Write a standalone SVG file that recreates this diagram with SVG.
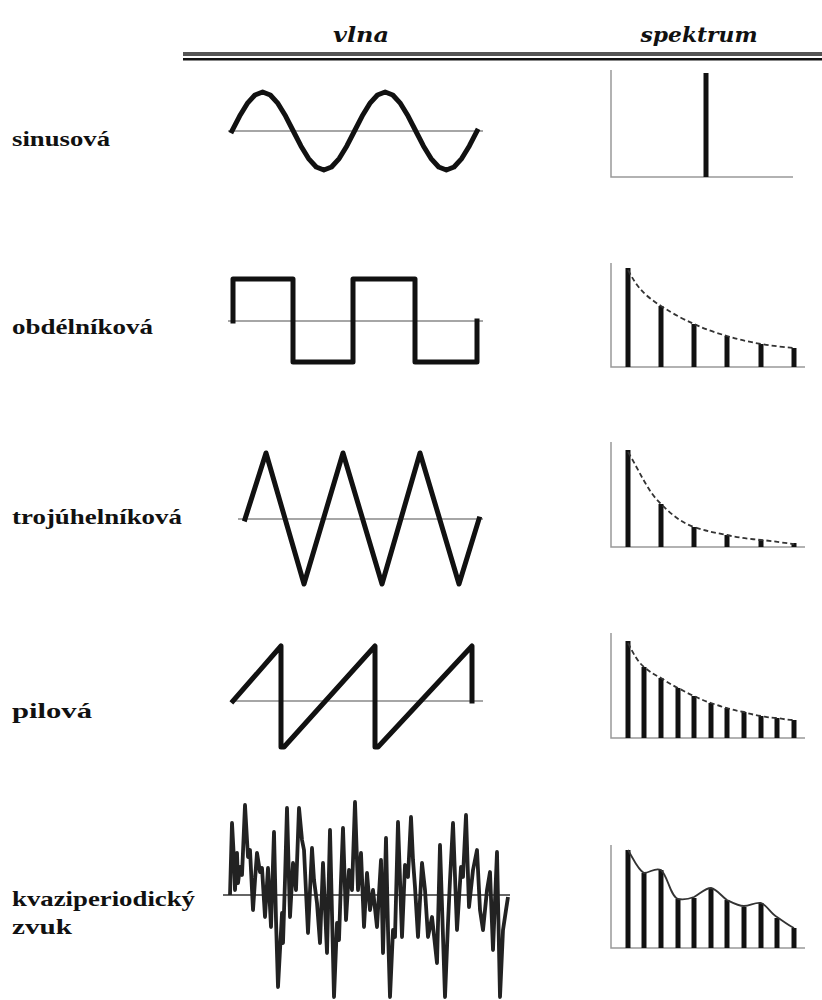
<svg xmlns="http://www.w3.org/2000/svg" width="822" height="1000" viewBox="0 0 822 1000">
<style>
.lbl{font-family:'Liberation Serif','Times New Roman',serif;font-weight:700;font-size:21px;fill:#111}
.hdr{font-family:'DejaVu Serif','Liberation Serif',serif;font-style:italic;font-weight:bold;font-size:21px;fill:#111}
.axis{stroke:#888;stroke-width:1.5;fill:none}
.wave{stroke:#111;stroke-width:5;fill:none;stroke-linejoin:round;stroke-linecap:square}
.sax{stroke:#999;stroke-width:1.5;fill:none}
.bar{stroke:#111;stroke-width:5;fill:none}
.env{stroke:#333;stroke-width:1.8;fill:none;stroke-dasharray:5 3}
.envs{stroke:#333;stroke-width:1.8;fill:none}
</style>
<rect width="822" height="1000" fill="#fff"/>
<g id="header">
<text class="hdr" x="361" y="42" text-anchor="middle" textLength="56" lengthAdjust="spacingAndGlyphs">vlna</text>
<text class="hdr" x="699" y="42" text-anchor="middle" textLength="117" lengthAdjust="spacingAndGlyphs">spektrum</text>
<rect x="183" y="52" width="639" height="4" fill="#555"/>
<rect x="183" y="58" width="639" height="2.5" fill="#111"/>
</g>
<g id="sinus">
<text class="lbl" x="12" y="146" textLength="98" lengthAdjust="spacingAndGlyphs">sinusová</text>
<line class="axis" x1="228" y1="131" x2="483" y2="131"/>
<polyline class="wave" points="232,131 239.66,116.07 247.31,103.42 254.97,94.97 262.63,92 270.28,94.97 277.94,103.42 285.59,116.07 293.25,131 300.91,145.93 308.56,158.58 316.22,167.03 323.88,170 331.53,167.03 339.19,158.58 346.84,145.93 354.5,131 362.16,116.07 369.81,103.42 377.47,94.97 385.13,92 392.78,94.97 400.44,103.42 408.09,116.07 415.75,131 423.41,145.93 431.06,158.58 438.72,167.03 446.38,170 454.03,167.03 461.69,158.58 469.34,145.93 477,131"/>
<polyline class="sax" points="611,70 611,177 793,177"/>
<line class="bar" x1="706" y1="73" x2="706" y2="177"/>
</g>
<g id="obdelnikova">
<text class="lbl" x="12" y="334" textLength="141" lengthAdjust="spacingAndGlyphs">obdélníková</text>
<line class="axis" x1="228" y1="321" x2="483" y2="321"/>
<polyline class="wave" points="233,321 233,279 293,279 293,362 353,362 353,279 415,279 415,362 477,362 477,321"/>
<polyline class="sax" points="611,263 611,367 805,367"/>
<line class="bar" x1="628" y1="268" x2="628" y2="367"/>
<line class="bar" x1="661" y1="306" x2="661" y2="367"/>
<line class="bar" x1="694" y1="324" x2="694" y2="367"/>
<line class="bar" x1="727" y1="336" x2="727" y2="367"/>
<line class="bar" x1="761" y1="344" x2="761" y2="367"/>
<line class="bar" x1="794" y1="348" x2="794" y2="367"/>
<path class="env" d="M628,270 C636,285 642,294 661,306 C675,315 685,320 694,324 C707,330 717,333 727,336 C740,340 750,342 761,344 C772,346 784,347 794,348"/>
</g>
<g id="trojuhelnikova">
<text class="lbl" x="12" y="524" textLength="170" lengthAdjust="spacingAndGlyphs">trojúhelníková</text>
<line class="axis" x1="238" y1="519" x2="483" y2="519"/>
<polyline class="wave" points="245,519 266,453 304,584 343,453 382,584 420,453 459,584 479,519"/>
<polyline class="sax" points="611,442 611,547 805,547"/>
<line class="bar" x1="628" y1="450" x2="628" y2="547"/>
<line class="bar" x1="661" y1="504" x2="661" y2="547"/>
<line class="bar" x1="694" y1="527" x2="694" y2="547"/>
<line class="bar" x1="727" y1="535" x2="727" y2="547"/>
<line class="bar" x1="761" y1="540" x2="761" y2="547"/>
<line class="bar" x1="794" y1="543" x2="794" y2="547"/>
<path class="env" d="M628,452 C640,472 648,492 661,504 C672,515 682,523 694,527 C706,531 716,533 727,535 C740,538 750,539 761,540 C773,541 784,543 794,544"/>
</g>
<g id="pilova">
<text class="lbl" x="12" y="718" textLength="80" lengthAdjust="spacingAndGlyphs">pilová</text>
<line class="axis" x1="233" y1="701" x2="483" y2="701"/>
<polyline class="wave" points="233,701 281,646 281,747 284,747 375,646 375,747 378,747 472,646 472,701"/>
<polyline class="sax" points="611,633 611,738 805,738"/>
<line class="bar" x1="628" y1="641" x2="628" y2="738"/>
<line class="bar" x1="644" y1="667" x2="644" y2="738"/>
<line class="bar" x1="661" y1="678" x2="661" y2="738"/>
<line class="bar" x1="678" y1="688" x2="678" y2="738"/>
<line class="bar" x1="694" y1="696" x2="694" y2="738"/>
<line class="bar" x1="711" y1="703" x2="711" y2="738"/>
<line class="bar" x1="727" y1="708" x2="727" y2="738"/>
<line class="bar" x1="744" y1="712" x2="744" y2="738"/>
<line class="bar" x1="761" y1="716" x2="761" y2="738"/>
<line class="bar" x1="777" y1="718" x2="777" y2="738"/>
<line class="bar" x1="794" y1="720" x2="794" y2="738"/>
<path class="env" d="M628,643 C634,655 638,662 644,667 C650,672 655,675 661,678 C667,682 672,685 678,688 C684,691 689,694 694,696 C700,699 705,701 711,703 C717,705 722,707 727,708 C733,710 738,711 744,712 C750,714 755,715 761,716 C767,717 771,718 777,718 C783,719 788,720 794,720"/>
</g>
<g id="kvaziperiodicky">
<text class="lbl" x="12" y="906" textLength="183" lengthAdjust="spacingAndGlyphs">kvaziperiodický</text>
<text class="lbl" x="12" y="934" textLength="60" lengthAdjust="spacingAndGlyphs">zvuk</text>
<line class="axis" x1="223" y1="895" x2="510" y2="895" style="stroke:#333"/>
<polyline style="stroke:#222;stroke-width:3.8;fill:none;stroke-linejoin:round" points="230,895 232,823 234,860 235,890 237,853 238,883 240,867 242,875 245,805 247,840 248,857 250,850 253,910 255,880 257,853 260,872 262,868 265,917 268,868 271,927 274,832 276,920 278,987 282,913 283,943 285,880 287,808 290,917 293,863 296,890 299,808 302,840 304,850 308,933 312,848 314,880 317,903 320,943 323,863 327,953 330,830 334,997 337,923 339,940 341,880 343,828 346,920 349,870 352,890 355,802 358,890 361,853 364,927 367,873 370,910 373,890 377,927 381,860 383,953 386,838 388,930 390,997 393,930 395,937 398,822 402,937 405,865 408,877 411,817 413,860 415,887 418,937 422,863 425,890 428,937 432,917 437,963 440,845 445,997 448,923 450,880 453,823 457,930 461,867 463,877 466,815 469,907 473,870 477,850 480,910 483,930 487,890 490,872 493,950 497,852 500,997 503,930 506,910 508,897"/>
<polyline class="sax" points="611,845 611,948 805,948"/>
<line class="bar" x1="628" y1="850" x2="628" y2="948"/>
<line class="bar" x1="644" y1="873" x2="644" y2="948"/>
<line class="bar" x1="661" y1="870" x2="661" y2="948"/>
<line class="bar" x1="678" y1="899" x2="678" y2="948"/>
<line class="bar" x1="694" y1="898" x2="694" y2="948"/>
<line class="bar" x1="711" y1="889" x2="711" y2="948"/>
<line class="bar" x1="727" y1="900" x2="727" y2="948"/>
<line class="bar" x1="744" y1="907" x2="744" y2="948"/>
<line class="bar" x1="761" y1="903" x2="761" y2="948"/>
<line class="bar" x1="777" y1="918" x2="777" y2="948"/>
<line class="bar" x1="794" y1="928" x2="794" y2="948"/>
<path class="envs" d="M628,850 C634,860 638,870 644,873 C650,873 655,867 661,870 C668,876 670,896 678,899 C684,900 689,899 694,897 C700,894 705,888 711,888 C717,889 722,897 727,900 C733,903 738,906 744,906 C750,906 755,902 761,903 C767,905 771,914 777,917 C783,921 788,925 794,928"/>
</g>
</svg>
